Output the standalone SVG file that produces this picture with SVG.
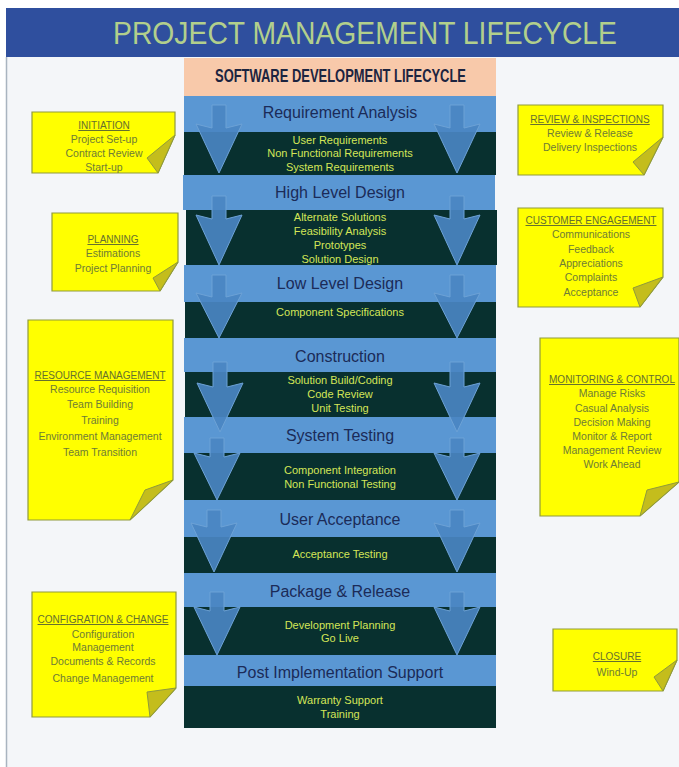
<svg xmlns="http://www.w3.org/2000/svg" width="679" height="767" viewBox="0 0 679 767">
  <style>
    .hdr { font-family: "Liberation Sans", Arial, sans-serif; font-size: 31px; fill: #b2cf8c; }
    .sdlc { font-family: "Liberation Sans", Arial, sans-serif; font-weight: bold; font-size: 18px; fill: #1c2440; }
    .band-l { fill: #5a97d3; }
    .band-d { fill: #08302f; }
    .stage { font-family: "Liberation Sans", Arial, sans-serif; font-size: 16px; fill: #1b2b58; text-anchor: middle; }
    .task { font-family: "Liberation Sans", Arial, sans-serif; font-size: 11px; fill: #d4e657; text-anchor: middle; }
    .arrow { fill: #4a86c2; fill-opacity: 0.92; stroke: #6da2d6; stroke-width: 1; }
    .note { fill: #ffff00; stroke: #8f9a3c; stroke-width: 1.2; }
    .fold { fill: #c4bd1c; stroke: #8f9a3c; stroke-width: 1; }
    .nt { font-family: "Liberation Sans", Arial, sans-serif; font-size: 10.5px; fill: #6e7c36; text-anchor: middle; }
    .nh { font-family: "Liberation Sans", Arial, sans-serif; font-size: 10px; fill: #66702e; text-anchor: middle; text-decoration: underline; }
  </style>

  <!-- page -->
  <rect x="0" y="0" width="679" height="767" fill="#ffffff"/>
  <rect x="6" y="57" width="673" height="710" fill="#f4f6f9"/>
  <line x1="6.5" y1="57" x2="6.5" y2="767" stroke="#a9b4c0" stroke-width="1.5"/>

  <!-- title bar -->
  <g id="title">
    <rect x="6" y="8" width="673" height="49" fill="#2f4f9e"/>
    <text class="hdr" x="113" y="44" textLength="504" lengthAdjust="spacingAndGlyphs">PROJECT MANAGEMENT LIFECYCLE</text>
  </g>

  <!-- SDLC column -->
  <g id="sdlc-header">
    <rect x="184" y="58" width="312" height="38" fill="#f8c9aa"/>
    <text class="sdlc" x="215" y="82" textLength="251" lengthAdjust="spacingAndGlyphs">SOFTWARE DEVELOPMENT LIFECYCLE</text>
  </g>

  <g id="bands">
    <rect class="band-l" x="184" y="96" width="312" height="36"/>
    <rect class="band-d" x="184" y="132" width="312" height="43"/>
    <rect class="band-l" x="183" y="175" width="312" height="35"/>
    <rect class="band-d" x="186" y="210" width="311" height="55"/>
    <rect class="band-l" x="184" y="265" width="312" height="37"/>
    <rect class="band-d" x="185" y="302" width="311" height="36"/>
    <rect class="band-l" x="184" y="338" width="312" height="34"/>
    <rect class="band-d" x="185" y="372" width="311" height="45"/>
    <rect class="band-l" x="184" y="417" width="312" height="36"/>
    <rect class="band-d" x="184" y="453" width="312" height="47"/>
    <rect class="band-l" x="184" y="500" width="312" height="37"/>
    <rect class="band-d" x="184" y="537" width="312" height="36"/>
    <rect class="band-l" x="184" y="573" width="312" height="34"/>
    <rect class="band-d" x="184" y="607" width="312" height="48"/>
    <rect class="band-l" x="184" y="655" width="312" height="31"/>
    <rect class="band-d" x="184" y="686" width="312" height="42"/>
  </g>

  <!-- flow arrows down both sides of the column -->
  <g id="connectors">
    <polygon class="arrow" points="212,105 226,105 226,128 242,124 219,173 196,124 212,128"/>
    <polygon class="arrow" points="450,105 464,105 464,128 480,124 457,173 434,124 450,128"/>
    <polygon class="arrow" points="212,196 226,196 226,219 242,215 219,265 196,215 212,219"/>
    <polygon class="arrow" points="450,196 464,196 464,219 480,215 457,265 434,215 450,219"/>
    <polygon class="arrow" points="212,275 226,275 226,297 242,293 219,338 196,293 212,297"/>
    <polygon class="arrow" points="450,275 464,275 464,297 480,293 457,338 434,293 450,297"/>
    <polygon class="arrow" points="213,362 227,362 227,387 243,383 220,432 197,383 213,387"/>
    <polygon class="arrow" points="450,362 464,362 464,387 480,383 457,432 434,383 450,387"/>
    <polygon class="arrow" points="210,438 224,438 224,457 240,453 217,500 194,453 210,457"/>
    <polygon class="arrow" points="450,438 464,438 464,457 480,453 457,500 434,453 450,457"/>
    <polygon class="arrow" points="207,510 221,510 221,527 237,523 214,572 191,523 207,527"/>
    <polygon class="arrow" points="450,510 464,510 464,527 480,523 457,572 434,523 450,527"/>
    <polygon class="arrow" points="210,592 224,592 224,611 240,607 217,655 194,607 210,611"/>
    <polygon class="arrow" points="450,592 464,592 464,611 480,607 457,655 434,607 450,611"/>
  </g>

  <!-- stages -->
  <g id="stage-requirement-analysis">
    <text class="stage" x="340" y="118">Requirement Analysis</text>
    <text class="task" x="340" y="144">User Requirements</text>
    <text class="task" x="340" y="157">Non Functional Requirements</text>
    <text class="task" x="340" y="171">System Requirements</text>
  </g>
  <g id="stage-high-level-design">
    <text class="stage" x="340" y="198">High Level Design</text>
    <text class="task" x="340" y="221">Alternate Solutions</text>
    <text class="task" x="340" y="235">Feasibility Analysis</text>
    <text class="task" x="340" y="249">Prototypes</text>
    <text class="task" x="340" y="263">Solution Design</text>
  </g>
  <g id="stage-low-level-design">
    <text class="stage" x="340" y="289">Low Level Design</text>
    <text class="task" x="340" y="316">Component Specifications</text>
  </g>
  <g id="stage-construction">
    <text class="stage" x="340" y="362">Construction</text>
    <text class="task" x="340" y="384">Solution Build/Coding</text>
    <text class="task" x="340" y="398">Code Review</text>
    <text class="task" x="340" y="412">Unit Testing</text>
  </g>
  <g id="stage-system-testing">
    <text class="stage" x="340" y="441">System Testing</text>
    <text class="task" x="340" y="474">Component Integration</text>
    <text class="task" x="340" y="488">Non Functional Testing</text>
  </g>
  <g id="stage-user-acceptance">
    <text class="stage" x="340" y="525">User Acceptance</text>
    <text class="task" x="340" y="558">Acceptance Testing</text>
  </g>
  <g id="stage-package-release">
    <text class="stage" x="340" y="597">Package &amp; Release</text>
    <text class="task" x="340" y="629">Development Planning</text>
    <text class="task" x="340" y="642">Go Live</text>
  </g>
  <g id="stage-post-implementation">
    <text class="stage" x="340" y="678">Post Implementation Support</text>
    <text class="task" x="340" y="704">Warranty Support</text>
    <text class="task" x="340" y="718">Training</text>
  </g>

  <!-- sticky notes: management activities -->
  <g id="note-initiation">
    <polygon class="note" points="32,112 175,112 175,135 158,173 32,173"/>
    <polygon class="fold" points="175,135 158,173 147,158"/>
    <text class="nh" x="104" y="129">INITIATION</text>
    <text class="nt" x="104" y="143">Project Set-up</text>
    <text class="nt" x="104" y="157">Contract Review</text>
    <text class="nt" x="104" y="171">Start-up</text>
  </g>
  <g id="note-planning">
    <polygon class="note" points="52,213 178,213 178,262 160,291 52,291"/>
    <polygon class="fold" points="178,262 160,291 153,278"/>
    <text class="nh" x="113" y="243">PLANNING</text>
    <text class="nt" x="113" y="257">Estimations</text>
    <text class="nt" x="113" y="272">Project Planning</text>
  </g>
  <g id="note-resource-management">
    <polygon class="note" points="28,320 173,320 173,480 130,520 28,520"/>
    <polygon class="fold" points="173,480 130,520 145,490"/>
    <text class="nh" x="100" y="379">RESOURCE MANAGEMENT</text>
    <text class="nt" x="100" y="393">Resource Requisition</text>
    <text class="nt" x="100" y="408">Team Building</text>
    <text class="nt" x="100" y="424">Training</text>
    <text class="nt" x="100" y="440">Environment Management</text>
    <text class="nt" x="100" y="456">Team Transition</text>
  </g>
  <g id="note-configuration-change">
    <polygon class="note" points="32,592 176,592 176,688 150,717 32,717"/>
    <polygon class="fold" points="176,688 150,717 147,692"/>
    <text class="nh" x="103" y="623">CONFIGRATION &amp; CHANGE</text>
    <text class="nt" x="103" y="638">Configuration</text>
    <text class="nt" x="103" y="651">Management</text>
    <text class="nt" x="103" y="665">Documents &amp; Records</text>
    <text class="nt" x="103" y="682">Change Management</text>
  </g>
  <g id="note-review-inspections">
    <polygon class="note" points="518,105 663,105 663,137 644,175 518,175"/>
    <polygon class="fold" points="663,137 644,175 633,162"/>
    <text class="nh" x="590" y="123">REVIEW &amp; INSPECTIONS</text>
    <text class="nt" x="590" y="137">Review &amp; Release</text>
    <text class="nt" x="590" y="151">Delivery Inspections</text>
  </g>
  <g id="note-customer-engagement">
    <polygon class="note" points="518,208 663,208 663,277 640,307 518,307"/>
    <polygon class="fold" points="663,277 640,307 633,288"/>
    <text class="nh" x="591" y="224">CUSTOMER ENGAGEMENT</text>
    <text class="nt" x="591" y="238">Communications</text>
    <text class="nt" x="591" y="253">Feedback</text>
    <text class="nt" x="591" y="267">Appreciations</text>
    <text class="nt" x="591" y="281">Complaints</text>
    <text class="nt" x="591" y="296">Acceptance</text>
  </g>
  <g id="note-monitoring-control">
    <polygon class="note" points="540,338 679,338 679,482 640,516 540,516"/>
    <polygon class="fold" points="679,482 640,516 647,490"/>
    <text class="nh" x="612" y="383">MONITORING &amp; CONTROL</text>
    <text class="nt" x="612" y="397">Manage Risks</text>
    <text class="nt" x="612" y="412">Casual Analysis</text>
    <text class="nt" x="612" y="426">Decision Making</text>
    <text class="nt" x="612" y="440">Monitor &amp; Report</text>
    <text class="nt" x="612" y="454">Management Review</text>
    <text class="nt" x="612" y="468">Work Ahead</text>
  </g>
  <g id="note-closure">
    <polygon class="note" points="553,629 677,629 677,660 663,691 553,691"/>
    <polygon class="fold" points="677,660 663,691 654,677"/>
    <text class="nh" x="617" y="660">CLOSURE</text>
    <text class="nt" x="617" y="676">Wind-Up</text>
  </g>
</svg>
